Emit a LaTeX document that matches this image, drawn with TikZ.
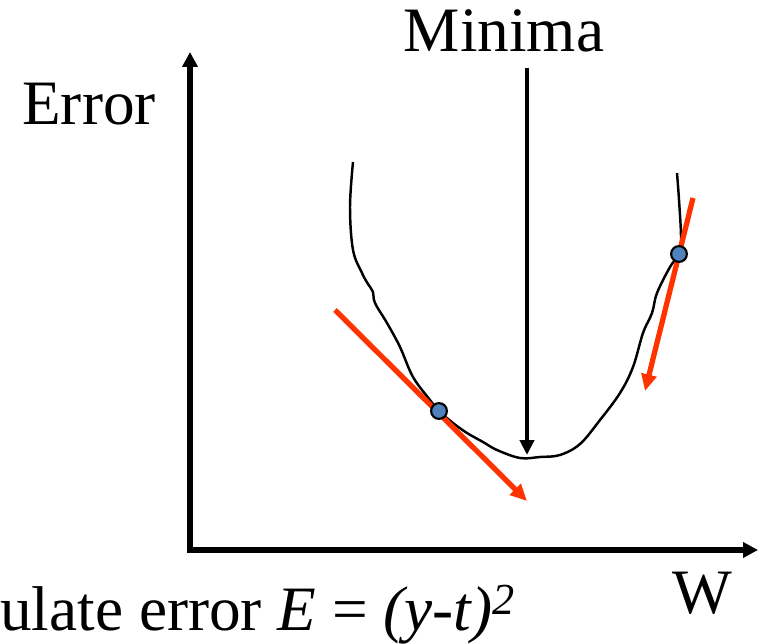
\documentclass[tikz,border=0pt]{standalone}
\usepackage{fontspec}
\setmainfont{Liberation Serif}
\usetikzlibrary{arrows.meta}
\definecolor{tanred}{RGB}{255,51,0}
\definecolor{dotblue}{RGB}{79,129,189}
\begin{document}
\begin{tikzpicture}[x=0.02cm,y=-0.02cm,
    axis/.style={line width=3.3pt,-{Triangle[length=8.5pt,width=8.5pt]}},
    tangent/.style={tanred,line width=3pt,-{Triangle[length=9.5pt,width=8.5pt]}},
    pointer/.style={line width=2.6pt,-{Triangle[length=8.5pt,width=8pt]}},
    wdot/.style={circle,draw=black,line width=1.2pt,fill=dotblue,minimum size=9pt,inner sep=0pt},
    lbl/.style={font=\fontsize{36}{40}\selectfont,inner sep=0pt}]
    \useasboundingbox (0,0) rectangle (760,644);

    % assi
    \coordinate (origin) at (190,550);
    \coordinate (ytop) at (190,52);
    \coordinate (xend) at (758,550);
    \draw[axis] (origin) -- (ytop);
    \draw[axis] ([xshift=-1.65pt]origin) -- (xend);
    \node[lbl,anchor=base west] (errlbl) at (22,125) {Error};
    \node[lbl,anchor=base west] (wlbl) at (672,613) {W};
    \node[lbl,anchor=base west] (calc) at (0,630)
        {ulate error \textit{E} = \textit{(y-t)}\textsuperscript{\textit{2}}};

    % curva errore
    \draw[line width=1.4pt,line join=round] plot[smooth,tension=0.6] coordinates {
        (353,162) (350,207) (353,250) (362,273) (368,284) (373,292) (375,303)
        (387,323) (400,347) (413,377) (430,400) (439,411) (453,423) (467,433)
        (483,442) (497,450) (520,458) (540,457) (560,455) (580,444) (600,420)
        (620,393) (633,367) (643,333) (652,313) (657,293) (670,267) (679,254)
        (681,237) (679,200) (677,173)};

    % minimo
    \node[lbl,anchor=base] (minlbl) at (504,52) {Minima};
    \coordinate (mintip) at (527,455);
    \draw[pointer] (527,68) -- (mintip);

    % tangenti e punti
    \coordinate (ta) at (335,310);
    \coordinate (tb) at (527,501);
    \coordinate (tc) at (693,198);
    \coordinate (td) at (645,391);
    \draw[tangent] (ta) -- (tb);
    \draw[tangent] (tc) -- (td);
    \node[wdot] (pa) at (439,411) {};
    \node[wdot] (pb) at (679,254) {};
\end{tikzpicture}
\end{document}
